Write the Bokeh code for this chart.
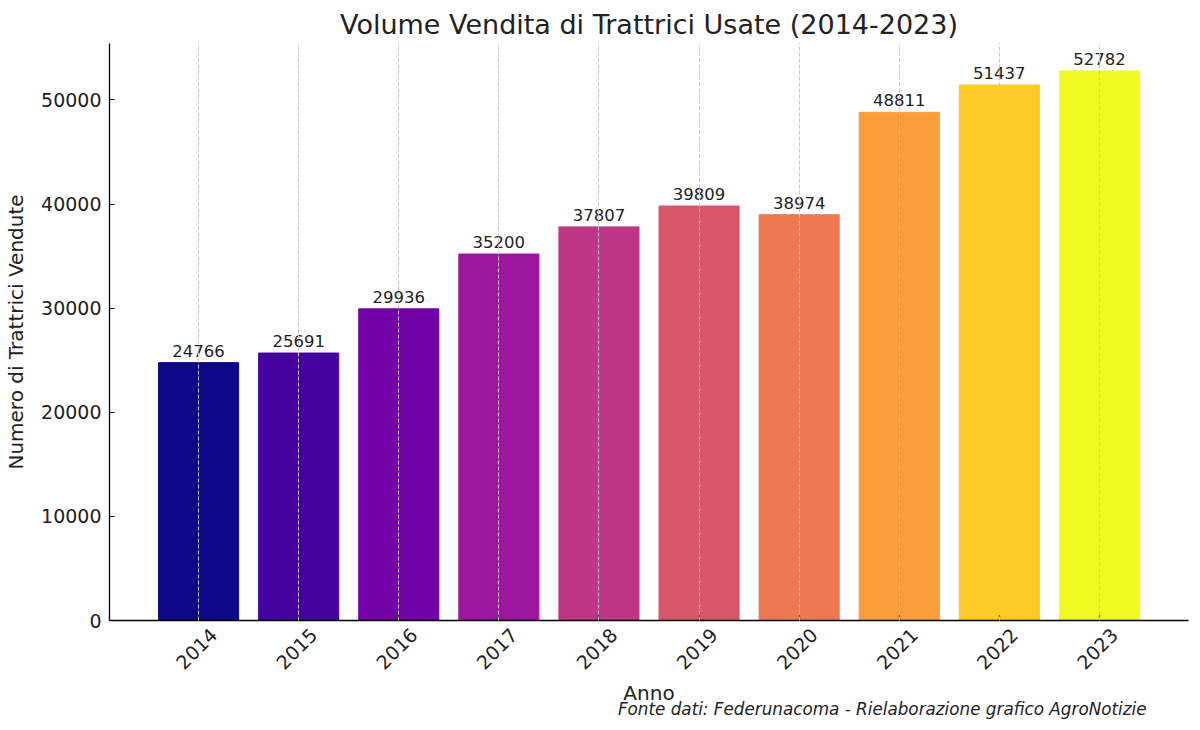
import numpy as np
from bokeh.plotting import figure
from bokeh.models import Range1d, FixedTicker, Title, ColumnDataSource, LinearAxis
from bokeh.core.properties import value
from bokeh.embed import file_html
from bokeh.resources import INLINE

years = ["2014", "2015", "2016", "2017", "2018", "2019", "2020", "2021", "2022", "2023"]
sales = [24766, 25691, 29936, 35200, 37807, 39809, 38974, 48811, 51437, 52782]
colors = ["#0d0887", "#47039f", "#7301a8", "#9c179e", "#bd3786",
          "#d8576b", "#ed7953", "#fa9e3b", "#fdc926", "#f0f921"]
y_ticks = [0, 10000, 20000, 30000, 40000, 50000]

FONT = "DejaVu Sans"
xs = list(range(len(years)))
src = ColumnDataSource(dict(x=xs, top=sales, color=colors, year=years,
                            label=[str(v) for v in sales]))

X0, X1 = -0.89, len(years) - 1 + 0.89
p = figure(width=1196, height=726, output_backend="svg", toolbar_location=None,
           x_range=Range1d(X0, X1),
           y_range=Range1d(0, max(sales) * 1.05),
           min_border_left=109, min_border_right=8, min_border_top=43,
           min_border_bottom=106)
p.outline_line_color = None
p.background_fill_color = "white"
p.border_fill_color = "white"

p.title.text = "Volume Vendita di Trattrici Usate (2014-2023)"
p.title.text_font = FONT
p.title.text_font_size = "27px"
p.title.text_font_style = "normal"
p.title.align = "center"
p.title.text_color = "#222222"
p.title.standoff = 8

p.vbar(x="x", top="top", width=0.8, source=src, fill_color="color",
       line_color="color", line_width=1)

p.text(x="x", y="top", text="label", source=src, text_align="center",
       text_baseline="bottom", y_offset=-6, text_font=value(FONT),
       text_font_size="16.5px", text_color="#222222")

# main x axis: line + inward ticks only
p.xaxis.ticker = FixedTicker(ticks=xs)
p.xaxis.major_label_overrides = {i: "" for i in xs}
p.xaxis.major_label_standoff = 0

# label axis: rotated year labels centred on the ticks (shifted range compensates
# for Bokeh's right-anchoring of rotated labels)
SHIFT = 0.15
p.extra_x_ranges = {"lbl": Range1d(X0 - SHIFT, X1 - SHIFT)}
lab_ax = LinearAxis(x_range_name="lbl", ticker=FixedTicker(ticks=xs),
                    major_label_overrides={i: y for i, y in zip(xs, years)},
                    major_label_orientation=np.pi / 4,
                    major_label_text_font=FONT, major_label_text_font_size="19px",
                    major_label_text_color="#222222", major_label_standoff=5,
                    axis_line_color=None, major_tick_line_color=None,
                    minor_tick_line_color=None,
                    axis_label="Anno", axis_label_text_font=FONT,
                    axis_label_text_font_size="20px",
                    axis_label_text_font_style="normal",
                    axis_label_text_color="#222222", axis_label_standoff=2)
p.add_layout(lab_ax, "below")

p.yaxis.ticker = FixedTicker(ticks=y_ticks)
for ax in (p.xaxis[0], p.yaxis[0]):
    ax.axis_line_color = "black"
    ax.axis_line_width = 1.3
    ax.major_tick_in = 5
    ax.major_tick_out = 0
    ax.major_tick_line_color = "black"
    ax.major_tick_line_width = 1.2
    ax.minor_tick_line_color = None
p.yaxis.major_label_text_font = FONT
p.yaxis.major_label_text_font_size = "19px"
p.yaxis.major_label_text_color = "#222222"
p.yaxis.major_label_standoff = 8
p.yaxis.axis_label = "Numero di Trattrici Vendute"
p.yaxis.axis_label_text_font = FONT
p.yaxis.axis_label_text_font_size = "20px"
p.yaxis.axis_label_text_font_style = "normal"
p.yaxis.axis_label_text_color = "#222222"
p.yaxis.axis_label_standoff = 10

p.ygrid.grid_line_color = None
p.xgrid.ticker = FixedTicker(ticks=xs)
p.xgrid.grid_line_color = "#c8c8c8"
p.xgrid.grid_line_dash = "4 2"
p.xgrid.grid_line_width = 1
p.xgrid.level = "overlay"

p.add_layout(Title(text="Fonte dati: Federunacoma - Rielaborazione grafico AgroNotizie",
                   align="right", offset=42, text_font=FONT, text_font_size="16.8px",
                   text_font_style="italic", text_color="#222222", standoff=-22),
             "below")

open("out.html", "w").write(file_html(p, INLINE))
